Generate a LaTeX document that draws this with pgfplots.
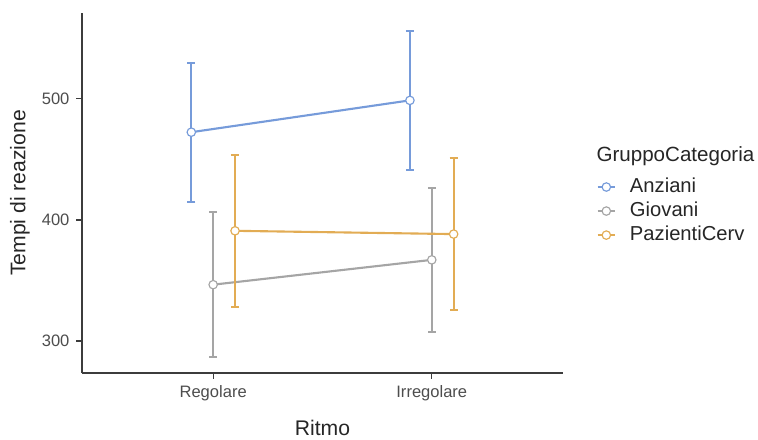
\documentclass[border=0pt]{standalone}
\usepackage{pgfplots}
\pgfplotsset{compat=1.18}
\usepackage{pgfplotstable}
\usepackage{fontspec}
\setmainfont{Liberation Sans}
\definecolor{cA}{RGB}{118,155,218}
\definecolor{cG}{RGB}{165,165,165}
\definecolor{cP}{RGB}{226,172,84}
\definecolor{tickc}{RGB}{77,77,77}
\definecolor{axc}{RGB}{60,60,60}

\pgfplotstableread{
x y ep em
0.9 472.5 57.5 57.5
1.9 498.8 57.3 57.3
}\anziani
\pgfplotstableread{
x y ep em
1.0 346.5 59.7 59.7
2.0 367.0 59.6 59.6
}\giovani
\pgfplotstableread{
x y ep em
1.1 391.0 62.8 62.8
2.1 388.3 63.0 63.0
}\pazienti

\begin{document}
\begin{tikzpicture}
\begin{axis}[
  at={(0pt,0pt)}, anchor=south west,
  scale only axis, width=250.1pt, height=187.2pt,
  xmin=0.4, xmax=2.6, ymin=273.5, ymax=571,
  axis x line=bottom, axis y line=left,
  axis line style={draw=axc, line width=0.6pt, -},
  xtick={1,2}, xticklabels={Regolare,Irregolare},
  ytick={300,400,500},
  tick align=outside, major tick length=3pt,
  tick style={draw=axc, line width=0.6pt},
  ticklabel style={font=\fontsize{8.6}{10}\selectfont, text=tickc},
  /pgf/number format/assume math mode=true,
  xlabel={Ritmo}, ylabel={Tempi di reazione},
  label style={font=\fontsize{11}{13}\selectfont, text=black!85},
  xlabel style={at={(axis description cs:0.5,-0.153)}, anchor=center},
  ylabel style={at={(axis description cs:-0.129,0.5)}, anchor=center},
  clip=false,
  legend style={at={(axis description cs:1.07,0.55)}, anchor=north west,
    draw=none, fill=none, inner sep=0pt, outer sep=0pt, row sep=0pt,
    font=\fontsize{10.5}{12}\selectfont, text=black!85,
    nodes={inner sep=1pt, text height=8pt, text depth=2.5pt}},
  legend cell align=left,
  legend image code/.code={
    \path[draw=none, fill=none] (0pt,0pt) -- (15.8pt,0pt);
    \draw[mark repeat=2, mark phase=2] plot coordinates {(0pt,0pt) (4.5pt,0pt) (9pt,0pt)};
  },
  every axis plot/.append style={line width=1.1pt, mark=*, mark size=2.2pt},
  error bars/y dir=both, error bars/y explicit,
  error bars/error mark=-,
]
\addplot[color=cA, mark options={fill=white, draw=cA, line width=0.6pt},
  error bars/error bar style={line width=1.1pt, cA},
  error bars/error mark options={rotate=90, line width=1.1pt, mark size=2.1pt, cA}]
  table[x=x, y=y, y error plus=ep, y error minus=em]{\anziani};
\addlegendentry{Anziani}
\addplot[color=cG, mark options={fill=white, draw=cG, line width=0.6pt},
  error bars/error bar style={line width=1.1pt, cG},
  error bars/error mark options={rotate=90, line width=1.1pt, mark size=2.1pt, cG}]
  table[x=x, y=y, y error plus=ep, y error minus=em]{\giovani};
\addlegendentry{Giovani}
\addplot[color=cP, mark options={fill=white, draw=cP, line width=0.6pt},
  error bars/error bar style={line width=1.1pt, cP},
  error bars/error mark options={rotate=90, line width=1.1pt, mark size=2.1pt, cP}]
  table[x=x, y=y, y error plus=ep, y error minus=em]{\pazienti};
\addlegendentry{PazientiCerv}
\node[anchor=west, inner sep=0pt, font=\fontsize{10.7}{13}\selectfont, text=black!85]
  at (rel axis cs:1.069,0.601) {GruppoCategoria};
\end{axis}
\pgfresetboundingbox
\path[use as bounding box] (-42.64pt,-34.32pt) rectangle (351.52pt,193.96pt);
\end{tikzpicture}
\end{document}
